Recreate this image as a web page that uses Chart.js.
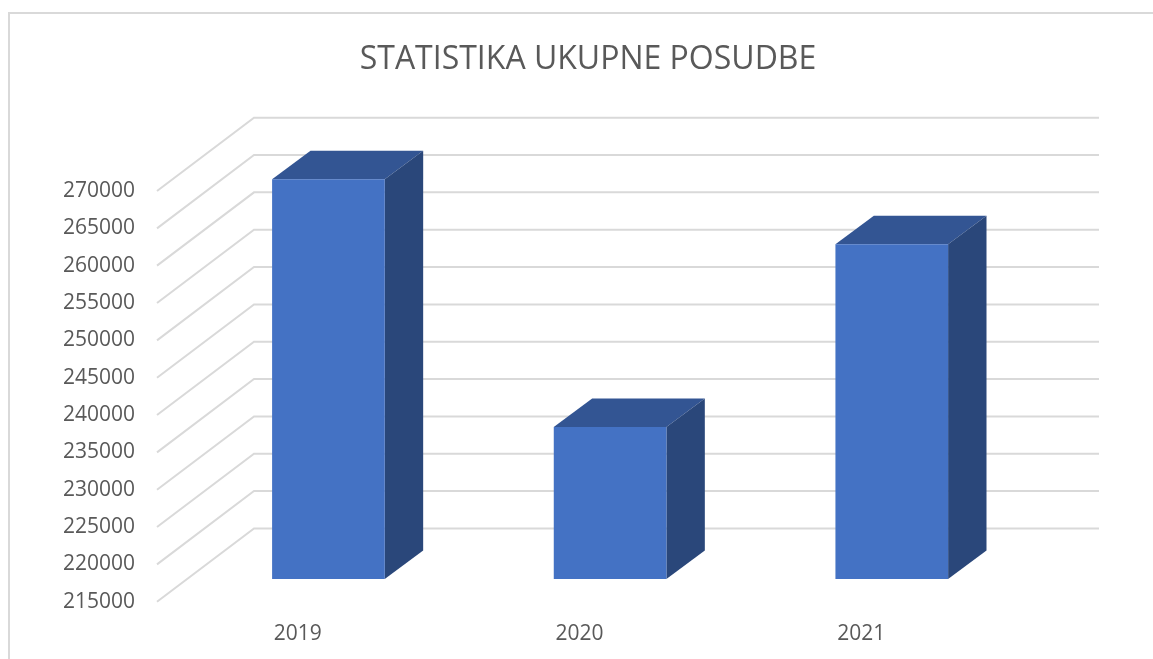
<!DOCTYPE html>
<html>
<head>
<meta charset="utf-8">
<script src="https://cdn.jsdelivr.net/npm/chart.js@4/dist/chart.umd.min.js"></script>
<style>html,body{margin:0;padding:0;background:#fff;overflow:hidden}canvas{display:block}</style>
</head>
<body>
<canvas id="c" width="1153" height="659"></canvas>
<script>
const categories = ['2019', '2020', '2021'];
const posudba = [268535, 235350, 259830];
const chartTitle = 'STATISTIKA UKUPNE POSUDBE';
const yMin = 215000, yMax = 270000, yStep = 5000;

const FONT = '"Open Sans", sans-serif';
const TEXT = '#595959', GRID = '#d9d9d9';
const FRONT = '#4472c4', TOP = '#335593', SIDE = '#2a477a';
const WALL = {dx: 97, dy: -73.3};   // depth of the floor / back wall
const BAR_SHIFT = {dx: 30.6, dy: -22.7}; // bars sit part-way into the depth
const BAR_DEPTH = {dx: 38.4, dy: -28.6};

const pseudo3d = {
  id: 'pseudo3d',
  beforeDraw(chart) {
    const ctx = chart.ctx;
    ctx.save();
    ctx.strokeStyle = GRID; ctx.lineWidth = 2;
    ctx.beginPath();
    ctx.moveTo(9, chart.height); ctx.lineTo(9, 13); ctx.lineTo(chart.width, 13);
    ctx.stroke();
    ctx.restore();
  },
  beforeDatasetsDraw(chart) {
    const ctx = chart.ctx, y = chart.scales.y, a = chart.chartArea;
    ctx.save();
    ctx.strokeStyle = GRID; ctx.lineWidth = 2; ctx.lineJoin = 'miter';
    y.ticks.forEach(t => {
      const py = y.getPixelForValue(t.value);
      ctx.beginPath();
      ctx.moveTo(a.left, py);
      ctx.lineTo(a.left + WALL.dx, py + WALL.dy);
      ctx.lineTo(a.right + WALL.dx, py + WALL.dy);
      ctx.stroke();
    });
    ctx.restore();
    ctx.save();
    ctx.translate(BAR_SHIFT.dx, BAR_SHIFT.dy);
    chart.getDatasetMeta(0).data.forEach(bar => {
      const p = bar.getProps(['x', 'y', 'base', 'width'], true);
      const l = p.x - p.width / 2, r = p.x + p.width / 2;
      ctx.fillStyle = TOP;
      ctx.beginPath();
      ctx.moveTo(l, p.y); ctx.lineTo(r, p.y);
      ctx.lineTo(r + BAR_DEPTH.dx, p.y + BAR_DEPTH.dy);
      ctx.lineTo(l + BAR_DEPTH.dx, p.y + BAR_DEPTH.dy);
      ctx.closePath(); ctx.fill();
      ctx.fillStyle = SIDE;
      ctx.beginPath();
      ctx.moveTo(r, p.y); ctx.lineTo(r + BAR_DEPTH.dx, p.y + BAR_DEPTH.dy);
      ctx.lineTo(r + BAR_DEPTH.dx, p.base + BAR_DEPTH.dy);
      ctx.lineTo(r, p.base);
      ctx.closePath(); ctx.fill();
    });
  },
  afterDatasetsDraw(chart) { chart.ctx.restore(); }
};

new Chart(document.getElementById('c'), {
  type: 'bar',
  data: {
    labels: categories,
    datasets: [{
      data: posudba,
      base: yMin,
      backgroundColor: FRONT,
      borderWidth: 0,
      barPercentage: 0.4,
      categoryPercentage: 1,
      clip: false
    }]
  },
  plugins: [pseudo3d],
  options: {
    responsive: false,
    animation: false,
    layout: {padding: {left: 23, top: 0, right: 0, bottom: 0}},
    plugins: {
      legend: {display: false},
      tooltip: {enabled: false},
      title: {
        display: true,
        text: chartTitle,
        color: TEXT,
        font: {family: FONT, size: 32, weight: 'normal', lineHeight: 1.2},
        padding: {top: 41, bottom: 111.6}
      }
    },
    scales: {
      x: {
        grid: {display: false},
        border: {display: false},
        ticks: {color: TEXT, font: {family: FONT, size: 21}, padding: 12, maxRotation: 0},
        afterFit(s) { s.height = 57.3; }
      },
      y: {
        min: yMin, max: yMax,
        grid: {display: false},
        border: {display: false},
        ticks: {stepSize: yStep, color: TEXT, font: {family: FONT, size: 21}, padding: 14, callback: v => String(v)},
        afterFit(s) { s.width = 134; }
      },
      yRight: {
        position: 'right',
        min: yMin, max: yMax,
        grid: {display: false},
        border: {display: false},
        ticks: {display: false},
        afterFit(s) { s.width = 151; }
      }
    }
  }
});
</script>
</body>
</html>
